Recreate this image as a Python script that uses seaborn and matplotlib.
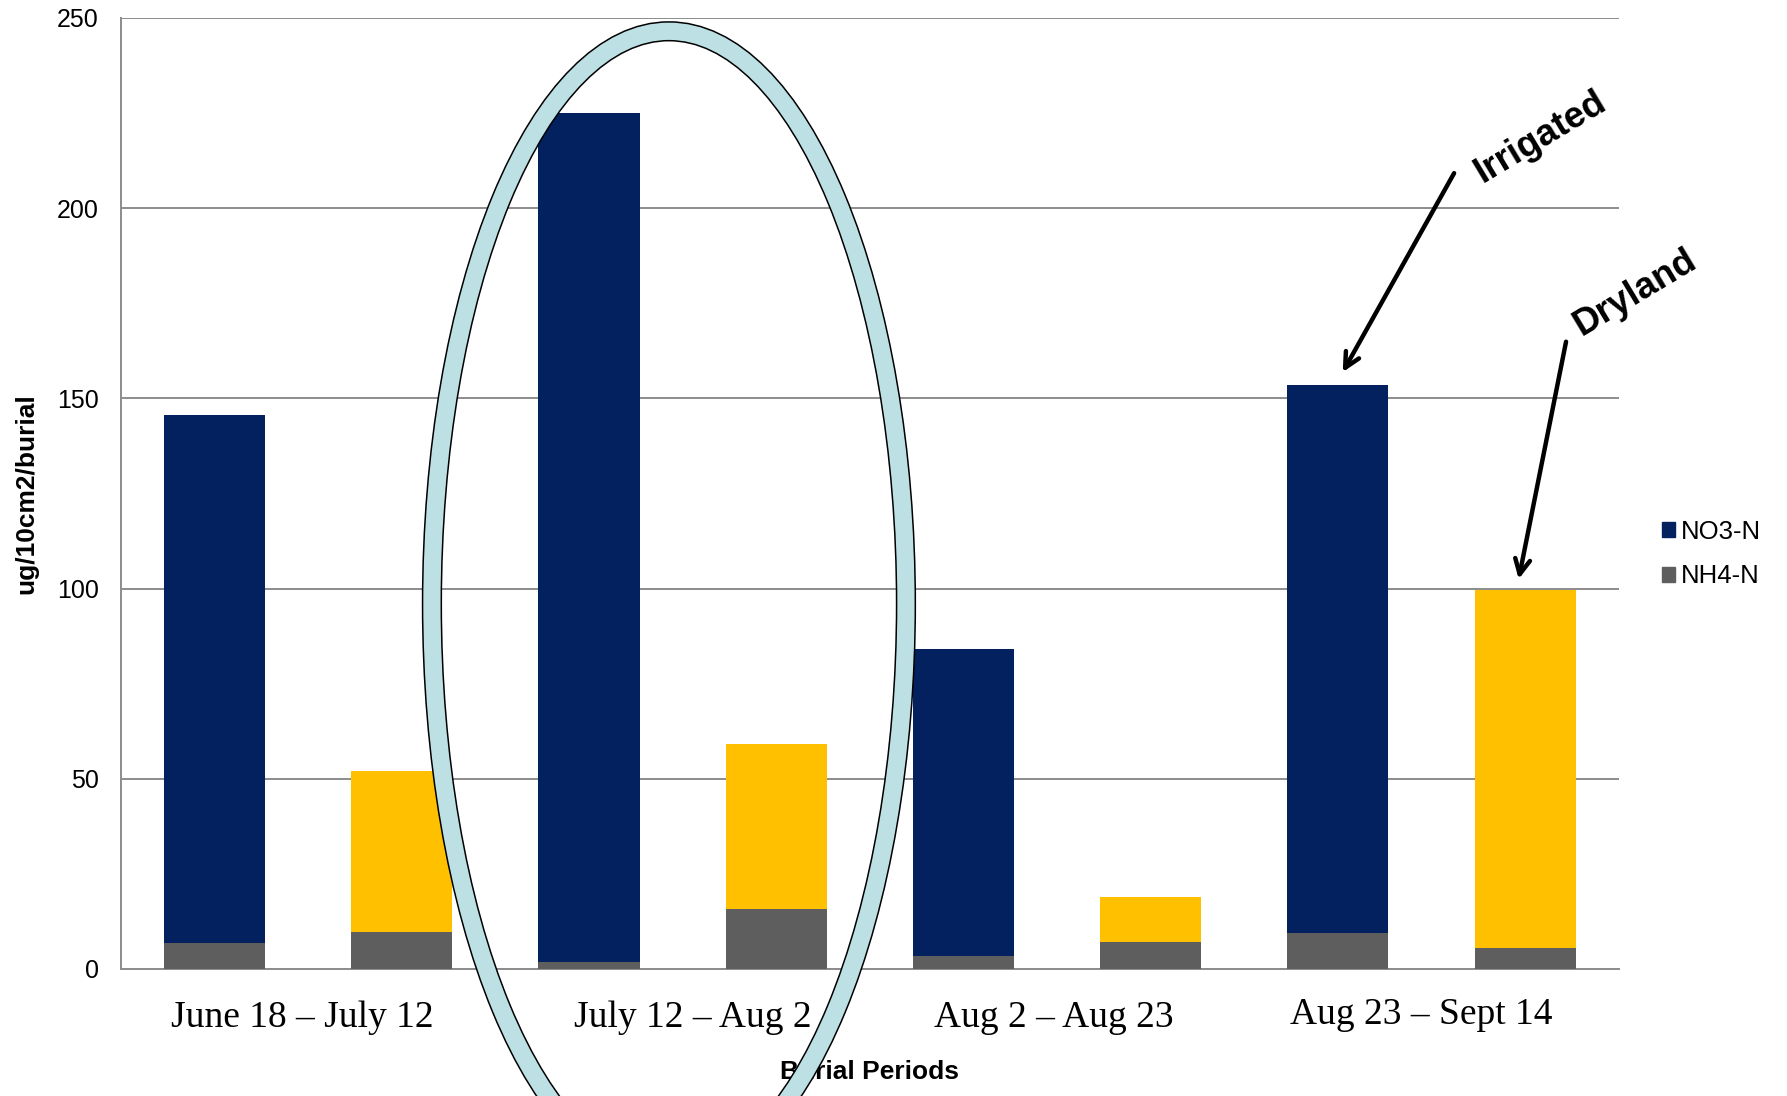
import matplotlib
matplotlib.use("Agg")
import matplotlib.pyplot as plt
import matplotlib.transforms as mtransforms
import pandas as pd
import seaborn as sns
from matplotlib.patches import Ellipse, Patch

# Burial periods and measured N supply rates (ug/10cm2/burial)
periods = ["June 18 – July 12", "July 12 – Aug 2", "Aug 2 – Aug 23", "Aug 23 – Sept 14"]
irrigated_no3 = [138.8, 223.1, 80.6, 144.2]
irrigated_nh4 = [6.9, 1.9, 3.4, 9.4]
dryland_no3 = [42.5, 43.4, 11.7, 94.0]
dryland_nh4 = [9.6, 15.8, 7.2, 5.5]
sites = ["Irrigated", "Dryland"]

NAVY = "#02215E"
GOLD = "#FFC000"
GRAY = "#5E5E5E"
RING = "#BCE0E3"

rows = []
for i, p in enumerate(periods):
    rows.append(dict(period=p, site="Irrigated", no3=irrigated_no3[i], nh4=irrigated_nh4[i]))
    rows.append(dict(period=p, site="Dryland", no3=dryland_no3[i], nh4=dryland_nh4[i]))
df = pd.DataFrame(rows)
df["slot"] = df["period"] + " | " + df["site"]
df["total"] = df["no3"] + df["nh4"]
order = list(df["slot"])

sns.set_theme(style="white")
plt.rcParams["font.family"] = ["Liberation Sans", "DejaVu Sans"]
plt.rcParams["text.color"] = "black"
plt.rcParams["axes.labelcolor"] = "black"
plt.rcParams["xtick.color"] = "black"
plt.rcParams["ytick.color"] = "black"

fig = plt.figure(figsize=(17.87, 10.96), dpi=100)
ax = fig.add_axes([0.0677, 0.1159, 0.8381, 0.8677])

# stacked bars: NO3-N on top of NH4-N
sns.barplot(data=df, x="slot", y="total", hue="site", order=order,
            palette={"Irrigated": NAVY, "Dryland": GOLD}, dodge=False,
            width=0.54, legend=False, saturation=1, linewidth=0,
            ax=ax, zorder=2)
sns.barplot(data=df, x="slot", y="nh4", order=order, color=GRAY,
            width=0.54, saturation=1, linewidth=0, ax=ax, zorder=3)

ax.set_xlim(-0.5, 7.5)
ax.set_ylim(0, 250)
ax.set_yticks([0, 50, 100, 150, 200, 250])
ax.yaxis.grid(True, color="#8C8C8C", linewidth=1.4, zorder=0)
ax.set_axisbelow(True)
for s in ["top", "right"]:
    ax.spines[s].set_visible(False)
for s in ["left", "bottom"]:
    ax.spines[s].set_color("#8C8C8C")
    ax.spines[s].set_linewidth(1.4)
ax.tick_params(axis="y", length=0, pad=16, labelsize=18, labelcolor="black")

ax.set_xticks([0.5, 2.5, 4.5, 6.5])
ax.set_xticklabels(periods, fontfamily="Liberation Serif", fontsize=27)
ax.tick_params(axis="x", length=0, pad=23, labelcolor="black")

# period captions sit as free text boxes, nudged slightly off their pair centres
nudges = [(-6, 0), (10, 0), (-3, 0), (-10, 3)]
for lab, (dx, dy) in zip(ax.get_xticklabels(), nudges):
    lab.set_transform(lab.get_transform() +
                      mtransforms.ScaledTranslation(dx / 100, dy / 100, fig.dpi_scale_trans))

ax.set_ylabel("ug/10cm2/burial", fontsize=19, fontweight="bold")
ax.yaxis.set_label_coords(-0.055, 0.5)
ax.set_xlabel("Burial Periods", fontsize=19, fontweight="bold")
ax.xaxis.set_label_coords(0.5, -0.096)

# legend for the two nitrogen forms
handles = [Patch(facecolor=NAVY, edgecolor=NAVY), Patch(facecolor=GRAY, edgecolor=GRAY)]
fig.legend(handles, ["NO3-N", "NH4-N"], loc="center left",
           bbox_to_anchor=(0.930, 0.4945), frameon=False, fontsize=18.5,
           handlelength=0.5, handleheight=0.5, handletextpad=0.25,
           labelspacing=0.8, borderpad=0, borderaxespad=0)

# highlight ring around the July 12 – Aug 2 period
for color, lw in [("black", 14.6), (RING, 12.4)]:
    ax.add_patch(Ellipse((2.427, 96), 2.532, 301, fill=False, edgecolor=color,
                         linewidth=lw, clip_on=False, zorder=6))

# site annotations
arrow = dict(arrowstyle="->, head_length=0.9, head_width=0.45", lw=3.2,
             color="black", shrinkA=0, shrinkB=0)
ax.annotate("", xy=(6.026, 156.9), xytext=(6.621, 209.2), arrowprops=arrow,
            annotation_clip=False, zorder=7)
ax.annotate("", xy=(6.966, 102.5), xytext=(7.219, 164.9), arrowprops=arrow,
            annotation_clip=False, zorder=7)
ax.text(7.080, 218.7, "Irrigated", rotation=31, rotation_mode="anchor",
        ha="center", va="center", fontsize=26.5, fontweight="bold",
        color="black", zorder=7)
ax.text(7.588, 177.7, "Dryland", rotation=31, rotation_mode="anchor",
        ha="center", va="center", fontsize=26.5, fontweight="bold",
        color="black", zorder=7)

fig.savefig("out.png", dpi=100)
